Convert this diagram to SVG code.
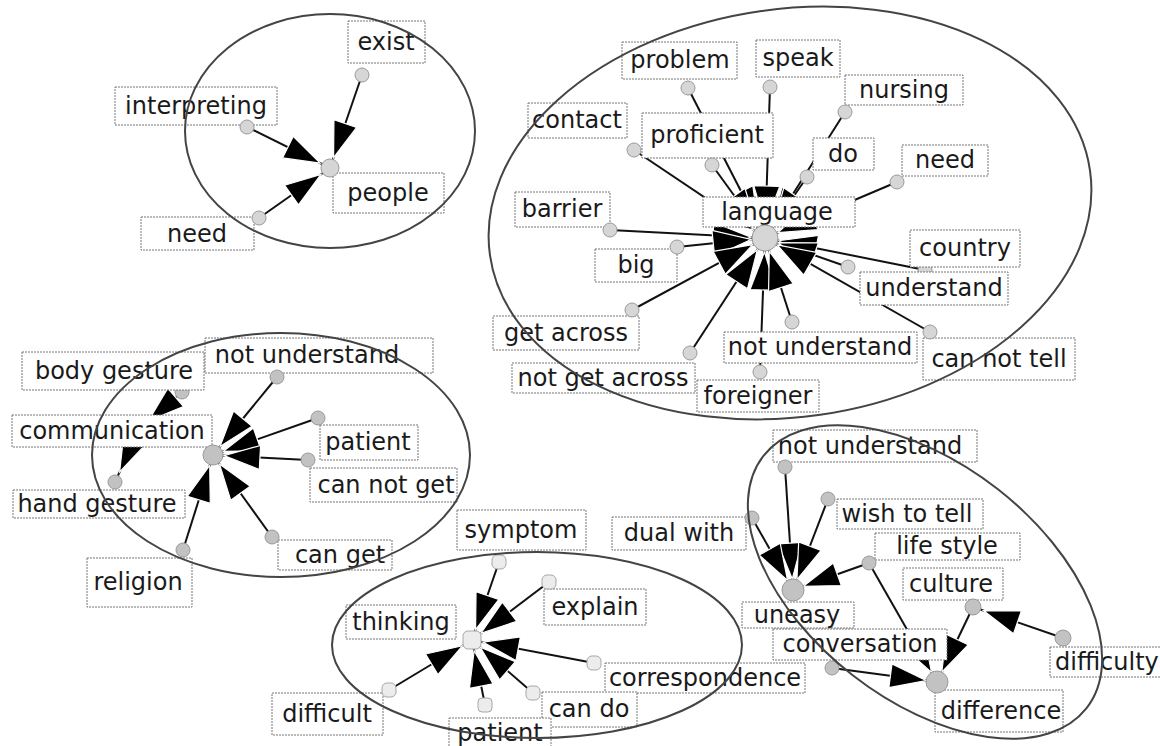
<svg xmlns="http://www.w3.org/2000/svg" width="1160" height="746" viewBox="0 0 1160 746">
<style>
.bx{fill:#fff;stroke:#777;stroke-width:1;stroke-dasharray:2,1}
.tx{font-family:"DejaVu Sans","Liberation Sans",sans-serif;font-size:24px;fill:#1a1a1a;text-anchor:middle}
.n1{fill:#d6d6d6;stroke:#9a9a9a;stroke-width:1}
.n3{fill:#c2c2c2;stroke:#9a9a9a;stroke-width:1}
.n4{fill:#ececec;stroke:#a8a8a8;stroke-width:1}
.e{stroke:#111;stroke-width:2;fill:none}
.a{marker-end:url(#ah)}
.aL{marker-end:url(#ahL)}
.cl{fill:none;stroke:#444;stroke-width:2}
</style>
<defs>
<marker id="ah" markerUnits="userSpaceOnUse" viewBox="0 0 50 26" markerWidth="50" markerHeight="26" refX="49" refY="13" orient="auto">
<path d="M2,1 L38,13 L2,25 Z" fill="#000" stroke="#fff" stroke-width="1.2"/>
</marker>
<marker id="ahL" markerUnits="userSpaceOnUse" viewBox="0 0 54 28" markerWidth="54" markerHeight="28" refX="53" refY="14" orient="auto">
<path d="M1,1 L39,14 L1,27 Z" fill="#000" stroke="#fff" stroke-width="1.2"/>
</marker>
</defs>

<g id="connectors">
<!-- cluster 1 -->
<line class="e a" x1="362" y1="75" x2="330" y2="168"/>
<line class="e a" x1="247" y1="127" x2="330" y2="168"/>
<line class="e a" x1="259" y1="218" x2="330" y2="168"/>
<!-- cluster 2 -->
<line class="e aL" x1="634" y1="150" x2="765" y2="238"/>
<line class="e aL" x1="688" y1="88" x2="765" y2="238"/>
<line class="e aL" x1="712" y1="165" x2="765" y2="238"/>
<line class="e aL" x1="770" y1="87" x2="765" y2="238"/>
<line class="e aL" x1="845" y1="112" x2="765" y2="238"/>
<line class="e aL" x1="807" y1="177" x2="765" y2="238"/>
<line class="e aL" x1="897" y1="182" x2="765" y2="238"/>
<line class="e aL" x1="610" y1="230" x2="765" y2="238"/>
<line class="e aL" x1="677" y1="247" x2="765" y2="238"/>
<line class="e aL" x1="632" y1="310" x2="765" y2="238"/>
<line class="e aL" x1="690" y1="353" x2="765" y2="238"/>
<line class="e aL" x1="760" y1="372" x2="765" y2="238"/>
<line class="e aL" x1="792" y1="322" x2="765" y2="238"/>
<line class="e aL" x1="925" y1="270" x2="765" y2="238"/>
<line class="e aL" x1="848" y1="267" x2="765" y2="238"/>
<line class="e aL" x1="930" y1="332" x2="765" y2="238"/>
<!-- cluster 3 -->
<line class="e a" x1="277" y1="377" x2="213" y2="455"/>
<line class="e a" x1="318" y1="418" x2="213" y2="455"/>
<line class="e a" x1="308" y1="460" x2="213" y2="455"/>
<line class="e a" x1="272" y1="537" x2="213" y2="455"/>
<line class="e a" x1="183" y1="550" x2="213" y2="455"/>
<line class="e a" x1="182" y1="392" x2="140" y2="428"/>
<line class="e a" x1="140" y1="428" x2="115" y2="482"/>
<!-- cluster 4 -->
<line class="e a" x1="499" y1="562" x2="472" y2="640"/>
<line class="e a" x1="549" y1="582" x2="472" y2="640"/>
<line class="e a" x1="594" y1="663" x2="472" y2="640"/>
<line class="e a" x1="533" y1="693" x2="472" y2="640"/>
<line class="e a" x1="485" y1="705" x2="472" y2="640"/>
<line class="e a" x1="389" y1="690" x2="472" y2="640"/>
<!-- cluster 5 -->
<line class="e a" x1="785" y1="467" x2="793" y2="590"/>
<line class="e a" x1="828" y1="499" x2="793" y2="590"/>
<line class="e a" x1="752" y1="518" x2="793" y2="590"/>
<line class="e a" x1="869" y1="563" x2="793" y2="590"/>
<line class="e a" x1="869" y1="563" x2="937" y2="682"/>
<line class="e a" x1="973" y1="607" x2="937" y2="682"/>
<line class="e a" x1="832" y1="668" x2="937" y2="682"/>
<line class="e a" x1="1063" y1="638" x2="973" y2="607"/>
</g>

<!-- cluster 1 nodes -->
<g id="n-exist"><rect class="bx" x="348" y="21" width="77" height="42"/><text class="tx" x="386" y="50">exist</text><circle class="n1" cx="362" cy="75" r="7"/></g>
<g id="n-interpreting"><rect class="bx" x="115" y="87" width="162" height="38"/><text class="tx" x="196" y="114">interpreting</text><circle class="n1" cx="247" cy="127" r="7"/></g>
<g id="n-need1"><rect class="bx" x="141" y="217" width="113" height="33"/><text class="tx" x="197" y="242">need</text><circle class="n1" cx="259" cy="218" r="7"/></g>
<g id="n-people"><rect class="bx" x="333" y="173" width="111" height="40"/><text class="tx" x="388" y="201">people</text><circle class="n1" cx="330" cy="168" r="9"/></g>

<!-- cluster 2 nodes -->
<g id="n-problem"><rect class="bx" x="622" y="42" width="115" height="37"/><text class="tx" x="680" y="68">problem</text><circle class="n1" cx="688" cy="88" r="7"/></g>
<g id="n-speak"><rect class="bx" x="756" y="40" width="84" height="37"/><text class="tx" x="798" y="66">speak</text><circle class="n1" cx="770" cy="87" r="7"/></g>
<g id="n-nursing"><rect class="bx" x="845" y="75" width="118" height="30"/><text class="tx" x="904" y="98">nursing</text><circle class="n1" cx="845" cy="112" r="7"/></g>
<g id="n-contact"><rect class="bx" x="528" y="103" width="99" height="35"/><text class="tx" x="577" y="128">contact</text><circle class="n1" cx="634" cy="150" r="7"/></g>
<g id="n-proficient"><rect class="bx" x="642" y="113" width="131" height="45"/><text class="tx" x="707" y="143">proficient</text><circle class="n1" cx="712" cy="165" r="7"/></g>
<g id="n-do"><rect class="bx" x="813" y="138" width="61" height="32"/><text class="tx" x="843" y="162">do</text><circle class="n1" cx="807" cy="177" r="7"/></g>
<g id="n-need2"><rect class="bx" x="902" y="145" width="86" height="31"/><text class="tx" x="945" y="168">need</text><circle class="n1" cx="897" cy="182" r="7"/></g>
<g id="n-language"><rect class="bx" x="703" y="197" width="152" height="30"/><text class="tx" x="777" y="220">language</text><circle class="n1" cx="765" cy="238" r="13"/></g>
<g id="n-barrier"><rect class="bx" x="515" y="192" width="95" height="35"/><text class="tx" x="562" y="217">barrier</text><circle class="n1" cx="610" cy="230" r="7"/></g>
<g id="n-big"><rect class="bx" x="595" y="249" width="82" height="33"/><text class="tx" x="636" y="273">big</text><circle class="n1" cx="677" cy="247" r="7"/></g>
<g id="n-country"><circle class="n1" cx="925" cy="270" r="7"/><rect class="bx" x="910" y="230" width="110" height="37"/><text class="tx" x="965" y="256">country</text></g>
<g id="n-understand"><rect class="bx" x="860" y="272" width="148" height="33"/><text class="tx" x="934" y="296">understand</text><circle class="n1" cx="848" cy="267" r="7"/></g>
<g id="n-getacross"><rect class="bx" x="493" y="316" width="146" height="34"/><text class="tx" x="566" y="341">get across</text><circle class="n1" cx="632" cy="310" r="7"/></g>
<g id="n-foreigner"><rect class="bx" x="697" y="380" width="122" height="32"/><text class="tx" x="758" y="404">foreigner</text><circle class="n1" cx="760" cy="372" r="7"/></g>
<g id="n-notunderstand2"><rect class="bx" x="724" y="332" width="193" height="31"/><text class="tx" x="820" y="355">not understand</text><circle class="n1" cx="792" cy="322" r="7"/></g>
<g id="n-cannottell"><rect class="bx" x="923" y="338" width="152" height="42"/><text class="tx" x="999" y="367">can not tell</text><circle class="n1" cx="930" cy="332" r="7"/></g>
<g id="n-notgetacross"><rect class="bx" x="512" y="363" width="183" height="30"/><text class="tx" x="603" y="386">not get across</text><circle class="n1" cx="690" cy="353" r="7"/></g>

<!-- cluster 3 nodes -->
<g id="n-notunderstand3"><rect class="bx" x="205" y="338" width="228" height="35"/><text class="tx" x="307" y="363">not understand</text><circle class="n3" cx="277" cy="377" r="7"/></g>
<g id="n-bodygesture"><circle class="n3" cx="182" cy="392" r="7"/><rect class="bx" x="22" y="352" width="182" height="38"/><text class="tx" x="114" y="379">body gesture</text></g>
<g id="n-communication"><rect class="bx" x="12" y="415" width="200" height="32"/><text class="tx" x="112" y="439">communication</text><circle class="n3" cx="213" cy="455" r="10"/></g>
<g id="n-handgesture"><rect class="bx" x="13" y="490" width="172" height="28"/><text class="tx" x="97" y="512">hand gesture</text><circle class="n3" cx="115" cy="482" r="7"/></g>
<g id="n-patient3"><rect class="bx" x="320" y="425" width="98" height="35"/><text class="tx" x="368" y="450">patient</text><circle class="n3" cx="318" cy="418" r="7"/></g>
<g id="n-cannotget"><rect class="bx" x="310" y="468" width="147" height="34"/><text class="tx" x="386" y="493">can not get</text><circle class="n3" cx="308" cy="460" r="7"/></g>
<g id="n-canget"><rect class="bx" x="278" y="540" width="114" height="30"/><text class="tx" x="340" y="563">can get</text><circle class="n3" cx="272" cy="537" r="7"/></g>
<g id="n-religion"><rect class="bx" x="87" y="558" width="105" height="49"/><text class="tx" x="138" y="590">religion</text><circle class="n3" cx="183" cy="550" r="7"/></g>

<!-- cluster 4 nodes -->
<g id="n-thinking"><rect class="bx" x="346" y="605" width="110" height="34"/><text class="tx" x="401" y="630">thinking</text><rect class="n4" x="463" y="631" width="18" height="18" rx="5"/></g>
<g id="n-symptom"><rect class="bx" x="457" y="510" width="129" height="40"/><text class="tx" x="521" y="538">symptom</text><rect class="n4" x="492" y="555" width="14" height="14" rx="5"/></g>
<g id="n-explain"><rect class="bx" x="544" y="589" width="102" height="36"/><text class="tx" x="595" y="615">explain</text><rect class="n4" x="542" y="575" width="14" height="14" rx="5"/></g>
<g id="n-correspondence"><rect class="bx" x="605" y="663" width="200" height="30"/><text class="tx" x="705" y="686">correspondence</text><rect class="n4" x="587" y="656" width="14" height="14" rx="5"/></g>
<g id="n-cando"><rect class="bx" x="542" y="692" width="95" height="35"/><text class="tx" x="589" y="717">can do</text><rect class="n4" x="526" y="686" width="14" height="14" rx="5"/></g>
<g id="n-patient4"><rect class="bx" x="449" y="718" width="102" height="32"/><text class="tx" x="500" y="741">patient</text><rect class="n4" x="478" y="698" width="14" height="14" rx="4"/></g>
<g id="n-difficult"><rect class="bx" x="272" y="693" width="111" height="42"/><text class="tx" x="327" y="722">difficult</text><rect class="n4" x="382" y="683" width="14" height="14" rx="5"/></g>

<!-- cluster 5 nodes -->
<g id="n-notunderstand5"><rect class="bx" x="773" y="430" width="204" height="32"/><text class="tx" x="870" y="454">not understand</text><circle class="n3" cx="785" cy="467" r="7"/></g>
<g id="n-dualwith"><rect class="bx" x="612" y="517" width="134" height="33"/><text class="tx" x="679" y="541">dual with</text><circle class="n3" cx="752" cy="518" r="7"/></g>
<g id="n-wishtotell"><rect class="bx" x="837" y="499" width="146" height="30"/><text class="tx" x="907" y="522">wish to tell</text><circle class="n3" cx="828" cy="499" r="7"/></g>
<g id="n-lifestyle"><rect class="bx" x="875" y="533" width="145" height="27"/><text class="tx" x="947" y="554">life style</text><circle class="n3" cx="869" cy="563" r="7"/></g>
<g id="n-culture"><rect class="bx" x="903" y="568" width="100" height="32"/><text class="tx" x="951" y="592">culture</text><circle class="n3" cx="973" cy="607" r="8"/></g>
<g id="n-uneasy"><rect class="bx" x="742" y="602" width="112" height="26"/><text class="tx" x="797" y="623">uneasy</text><circle class="n3" cx="793" cy="590" r="11"/></g>
<g id="n-conversation"><rect class="bx" x="773" y="629" width="174" height="31"/><text class="tx" x="860" y="652">conversation</text><circle class="n3" cx="832" cy="668" r="7"/></g>
<g id="n-difference"><rect class="bx" x="935" y="690" width="128" height="42"/><text class="tx" x="1001" y="719">difference</text><circle class="n3" cx="937" cy="682" r="11"/></g>
<g id="n-difficulty"><rect class="bx" x="1050" y="647" width="112" height="30"/><text class="tx" x="1055" y="670" style="text-anchor:start">difficulty</text><circle class="n3" cx="1063" cy="638" r="8"/></g>

<g id="clusters">
<ellipse class="cl" cx="330" cy="131" rx="145" ry="117"/>
<ellipse class="cl" cx="790" cy="213" rx="303" ry="204" transform="rotate(-8 790 213)"/>
<ellipse class="cl" cx="281" cy="455" rx="189" ry="122"/>
<ellipse class="cl" cx="537" cy="645" rx="205" ry="93"/>
<ellipse class="cl" cx="925" cy="582" rx="205" ry="118" transform="rotate(38 925 582)"/>
</g>
</svg>
